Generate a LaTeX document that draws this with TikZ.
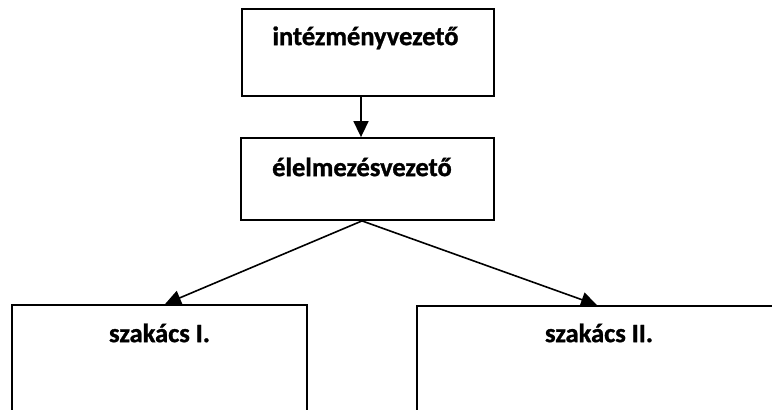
\documentclass[tikz,border=0pt]{standalone}
\usepackage{fontspec}
\setmainfont[BoldFeatures={FakeBold=1.2}]{Carlito}
\usetikzlibrary{arrows.meta,calc}
\begin{document}
\begin{tikzpicture}[x=1pt,y=-1pt,
  box/.style={draw=black, line width=1.8pt, rectangle, inner sep=0pt},
  lbl/.style={font=\fontsize{26.5}{30}\selectfont\bfseries, anchor=base, inner sep=0pt, text=black},
  conn/.style={draw=black, line width=1.6pt, -{Triangle[length=16pt,width=15pt]}}]
\useasboundingbox (0,0) rectangle (772,410);
\clip (0,0) rectangle (772,410);
\node[box, minimum width=252pt, minimum height=87pt] (b1) at (368,52.5) {};
\node[box, minimum width=253pt, minimum height=82pt] (b2) at (367.5,179) {};
\node[box, minimum width=295pt, minimum height=130pt] (b3) at (159.5,370) {};
\node[box, minimum width=364pt, minimum height=130pt] (b4) at (599,371) {};
\node[lbl] (t1) at ($(b1.north)+(-2.5,37)$) {intézményvezető};
\node[lbl] (t2) at ($(b2.north)+(-5.5,39)$) {élelmezésvezető};
\node[lbl] (t3) at ($(b3.north)+(0,38)$) {szakács I.};
\node[lbl] (t4) at ($(b4.north)+(0,37)$) {szakács II.};
\coordinate (v1) at (b1.south -| 361,0);
\coordinate (v2) at (b2.north -| 361,0);
\coordinate (split) at (b2.south -| 362,0);
\coordinate (e3) at (b3.north -| 165,0);
\coordinate (e4) at (b4.north -| 597,0);
\draw[conn] (v1) -- (v2);
\draw[conn] (split) -- (e3);
\draw[conn] (split) -- (e4);
\end{tikzpicture}
\end{document}
